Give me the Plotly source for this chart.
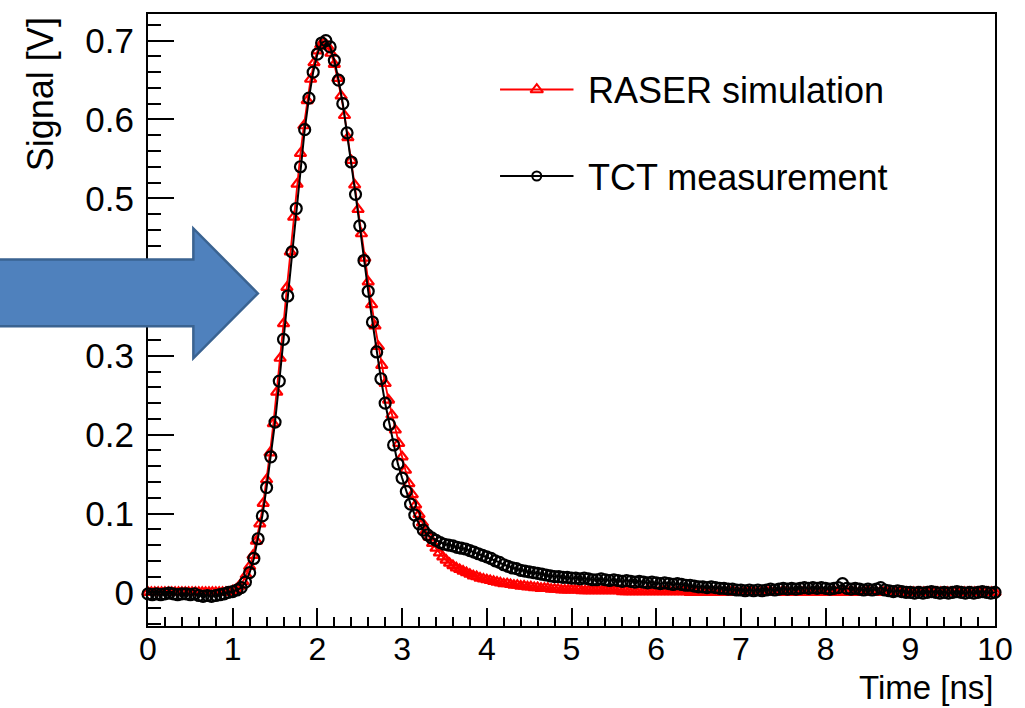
import plotly.graph_objects as go

# ---------------- data ----------------
# TCT measurement, sampled every 0.05 ns from 0 to 10 ns
tct_step = 0.05
tct_signal = [
    -0.002, -0.003, -0.002, -0.003, -0.002, -0.001, -0.002, -0.003, -0.002, -0.002,
    -0.003, -0.002, -0.004, -0.005, -0.004, -0.005, -0.004, -0.003, -0.002, 0.000,
    0.001, 0.003, 0.006, 0.013, 0.025, 0.043, 0.068, 0.097, 0.133, 0.172,
    0.216, 0.268, 0.321, 0.376, 0.432, 0.487, 0.540, 0.587, 0.627, 0.660,
    0.683, 0.697, 0.700, 0.692, 0.675, 0.650, 0.620, 0.583, 0.546, 0.505,
    0.465, 0.421, 0.382, 0.343, 0.305, 0.271, 0.240, 0.213, 0.187, 0.163,
    0.145, 0.128, 0.112, 0.098, 0.087, 0.079, 0.073, 0.069, 0.066, 0.063,
    0.061, 0.060, 0.059, 0.057, 0.056, 0.055, 0.053, 0.051, 0.049, 0.047,
    0.045, 0.043, 0.040, 0.038, 0.035, 0.033, 0.031, 0.030, 0.028, 0.027,
    0.026, 0.025, 0.024, 0.023, 0.022, 0.021, 0.020, 0.020, 0.019, 0.019,
    0.018, 0.018, 0.017, 0.018, 0.017, 0.016, 0.016, 0.017, 0.016, 0.015,
    0.016, 0.015, 0.014, 0.015, 0.014, 0.013, 0.014, 0.013, 0.012, 0.013,
    0.012, 0.011, 0.012, 0.011, 0.010, 0.011, 0.010, 0.009, 0.009, 0.008,
    0.007, 0.007, 0.006, 0.007, 0.006, 0.005, 0.005, 0.004, 0.004, 0.003,
    0.003, 0.002, 0.003, 0.002, 0.003, 0.002, 0.003, 0.004, 0.003, 0.004,
    0.005, 0.004, 0.005, 0.004, 0.005, 0.006, 0.005, 0.006, 0.005, 0.006,
    0.005, 0.004, 0.005, 0.006, 0.011, 0.005, 0.004, 0.005, 0.004, 0.003,
    0.004, 0.003, 0.004, 0.006, 0.003, 0.002, 0.001, 0.002, 0.001, 0.000,
    0.000, -0.001, 0.000, -0.001, 0.000, 0.001, 0.000, -0.001, 0.000, -0.001,
    0.000, 0.001, 0.000, -0.001, 0.000, -0.001, 0.000, 0.001, 0.000, -0.001,
    0.000,
]

# RASER simulation, sampled every 0.04 ns from 0 to 10 ns
raser_step = 0.04
raser_signal = [
    0.000, 0.000, 0.000, 0.000, 0.000, 0.000, 0.000, 0.000, 0.000, 0.000,
    0.000, 0.000, 0.000, 0.000, 0.000, 0.000, 0.000, 0.000, 0.000, 0.000,
    0.000, 0.000, 0.000, 0.000, 0.000,
    0.002, 0.004, 0.008, 0.014, 0.022, 0.033, 0.047, 0.065, 0.087, 0.113,
    0.143, 0.177, 0.214, 0.254, 0.297, 0.341, 0.387, 0.432, 0.476, 0.518,
    0.557, 0.592, 0.624, 0.651, 0.672,
    0.687, 0.695, 0.697, 0.693, 0.684, 0.670, 0.652, 0.630, 0.605, 0.577,
    0.548, 0.517, 0.486, 0.455, 0.424, 0.394, 0.365, 0.338, 0.312, 0.288,
    0.265, 0.244, 0.225, 0.206, 0.189,
    0.172, 0.155, 0.138, 0.124, 0.111, 0.099, 0.088, 0.078, 0.070, 0.062,
    0.056, 0.050, 0.045, 0.041, 0.037, 0.034, 0.031, 0.029, 0.027, 0.025,
    0.023, 0.021, 0.020, 0.018, 0.017,
    0.016, 0.015, 0.014, 0.013, 0.012, 0.011, 0.011, 0.010, 0.009, 0.009,
    0.008, 0.008, 0.007, 0.007, 0.006, 0.006, 0.005, 0.005, 0.005, 0.004,
    0.004, 0.004, 0.003, 0.003, 0.003,
    0.003, 0.003, 0.003, 0.002, 0.002, 0.002, 0.002, 0.002, 0.002, 0.002,
    0.002, 0.002, 0.002, 0.002, 0.002, 0.001, 0.001, 0.001, 0.001, 0.001,
    0.001, 0.001, 0.001, 0.001, 0.001,
    0.001, 0.001, 0.001, 0.001, 0.001, 0.001, 0.001, 0.001, 0.001, 0.001,
    0.000, 0.000, 0.000, 0.000, 0.000, 0.000, 0.000, 0.000, 0.000, 0.000,
    0.000, 0.000, 0.000, 0.000, 0.000,
    0.000, 0.000, 0.000, 0.000, 0.000, 0.000, 0.000, 0.000, 0.000, 0.000,
    0.000, 0.000, 0.000, 0.000, 0.000, 0.000, 0.000, 0.000, 0.000, 0.000,
    0.000, 0.000, 0.000, 0.000, 0.000,
    0.000, 0.000, 0.000, 0.000, 0.000, 0.000, 0.000, 0.000, 0.000, 0.000,
    0.000, 0.000, 0.000, 0.000, 0.000, 0.000, 0.000, 0.000, 0.000, 0.000,
    0.000, 0.000, 0.000, 0.000, 0.000,
    0.000, 0.000, 0.000, 0.000, 0.000, 0.000, 0.000, 0.000, 0.000, 0.000,
    0.000, 0.000, 0.000, 0.000, 0.000, 0.000, 0.000, 0.000, 0.000, 0.000,
    0.000, 0.000, 0.000, 0.000, 0.000,
    0.000,
]

tct_time = [round(i * tct_step, 3) for i in range(len(tct_signal))]
raser_time = [round(i * raser_step, 3) for i in range(len(raser_signal))]

series_names = ["RASER simulation", "TCT measurement"]
x_title = "Time [ns]"
y_title = "Signal [V]"

# ---------------- layout constants (pixels) ----------------
W, H = 1025, 708
PL, PR, PT, PB = 148.3, 1001.7, 13.3, 626.0
FONT = "Liberation Sans, Arial, sans-serif"
RED = "#ff0000"


def px2paper_x(px):
    return (px - PL) / (PR - PL)


def px2paper_y(py):
    return (PB - py) / (PB - PT)


fig = go.Figure()

fig.add_trace(go.Scatter(
    x=raser_time, y=raser_signal, mode="lines+markers", name=series_names[0],
    line=dict(color=RED, width=1.8),
    marker=dict(symbol="triangle-up-open", size=10, color=RED, line=dict(width=2.2, color=RED)),
    cliponaxis=False, showlegend=False,
))
fig.add_trace(go.Scatter(
    x=tct_time, y=tct_signal, mode="lines+markers", name=series_names[1],
    line=dict(color="black", width=2),
    marker=dict(symbol="circle-open", size=11, color="black", line=dict(width=2.2, color="black")),
    cliponaxis=False, showlegend=False,
))

# manual legend on a pixel-space overlay axis
legend_rows = [89.0, 175.5]
legend_styles = [
    dict(color=RED, symbol="triangle-up-open", size=11, lw=2),
    dict(color="black", symbol="circle-open", size=9, lw=2),
]
for name, yrow, st in zip(series_names, legend_rows, legend_styles):
    fig.add_trace(go.Scatter(
        x=[503, 577], y=[yrow, yrow], mode="lines", xaxis="x2", yaxis="y2",
        line=dict(color=st["color"], width=st["lw"]), showlegend=False, hoverinfo="skip",
    ))
    fig.add_trace(go.Scatter(
        x=[540], y=[yrow], mode="markers", xaxis="x2", yaxis="y2",
        marker=dict(symbol=st["symbol"], size=st["size"], color=st["color"],
                    line=dict(width=2, color=st["color"])),
        showlegend=False, hoverinfo="skip",
    ))

annotations = []
for name, yrow in zip(series_names, legend_rows):
    annotations.append(dict(
        x=px2paper_x(590), y=px2paper_y(yrow + 1), xref="paper", yref="paper",
        text=name, showarrow=False, xanchor="left", yanchor="middle",
        font=dict(family=FONT, size=36, color="black"),
    ))

annotations.append(dict(
    x=px2paper_x(1001), y=px2paper_y(707.5), xref="paper", yref="paper",
    text=x_title, showarrow=False, xanchor="right", yanchor="bottom", borderpad=0,
    font=dict(family=FONT, size=33, color="black"),
))
annotations.append(dict(
    x=px2paper_x(40), y=px2paper_y(15), xref="paper", yref="paper",
    text=y_title, showarrow=False, xanchor="center", yanchor="top", textangle=-90,
    font=dict(family=FONT, size=36, color="black"),
))

# blue slide arrow overlay
arrow_px = [(-10, 259), (194, 259), (194, 228), (259, 293), (194, 358), (194, 326), (-10, 326)]
arrow_path = "M " + " L ".join(f"{px2paper_x(a):.5f},{px2paper_y(b):.5f}" for a, b in arrow_px) + " Z"
shapes = [dict(
    type="path", path=arrow_path, xref="paper", yref="paper", layer="above",
    fillcolor="#4f81bd", line=dict(color="#3a6391", width=2.5),
)]

fig.update_layout(
    width=W, height=H,
    margin=dict(l=PL, r=W - PR, t=PT, b=H - PB, pad=0),
    paper_bgcolor="white", plot_bgcolor="white",
    font=dict(family=FONT, color="black"),
    showlegend=False,
    annotations=annotations,
    shapes=shapes,
    xaxis=dict(
        range=[0, 10], showgrid=False, zeroline=False,
        showline=True, linecolor="black", linewidth=2, mirror=True,
        ticks="inside", ticklen=18, tickwidth=2, tickcolor="black", dtick=1, tick0=0,
        minor=dict(ticks="inside", ticklen=9, tickwidth=2, tickcolor="black", dtick=0.2),
        tickfont=dict(family=FONT, size=32, color="black"),
        ticklabelstandoff=-6,
    ),
    yaxis=dict(
        range=[-0.0427, 0.7338], showgrid=False, zeroline=False,
        showline=True, linecolor="black", linewidth=2, mirror=True,
        ticks="inside", ticklen=26, tickwidth=2, tickcolor="black", dtick=0.1, tick0=0,
        minor=dict(ticks="inside", ticklen=13, tickwidth=2, tickcolor="black", dtick=0.02),
        tickfont=dict(family=FONT, size=35, color="black"),
        ticklabelstandoff=5,
    ),
    xaxis2=dict(range=[PL, PR], overlaying="x", visible=False, fixedrange=True),
    yaxis2=dict(range=[PB, PT], overlaying="y", visible=False, fixedrange=True),
)

fig.write_html("out.html")
